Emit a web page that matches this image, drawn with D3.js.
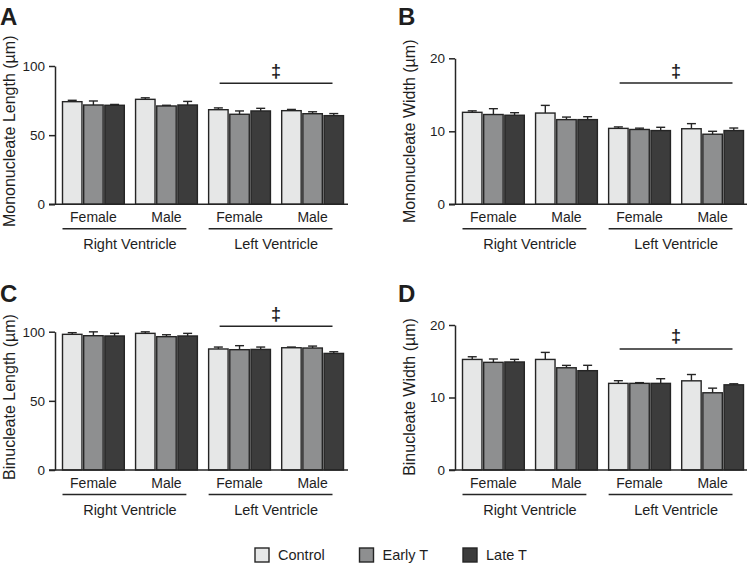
<!DOCTYPE html>
<html>
<head>
<meta charset="utf-8">
<script src="https://cdn.jsdelivr.net/npm/d3@7"></script>
<style>
  body { margin: 0; background: #fff; }
  text { font-family: Arial, "Liberation Sans", sans-serif; fill: #1e1e1e; }
</style>
</head>
<body>
<svg id="vis" width="747" height="566"></svg>
<script>
// series, groups, regions
const seriesNames = ['Control', 'Early T', 'Late T']
const groupLabels = ['Female', 'Male', 'Female', 'Male']
const regionLabels = ['Right Ventricle', 'Left Ventricle']

// values per group (RV female, RV male, LV female, LV male), one per series
const monoLengthMean = [[74.2, 71.8, 71.6], [75.9, 71.1, 71.8], [68.4, 65.1, 67.5], [67.7, 65.5, 64.1]]
const monoLengthErr  = [[1.0, 2.9, 0.6], [1.1, 0.5, 2.6], [1.3, 2.4, 1.9], [0.9, 1.4, 1.5]]
const monoWidthMean  = [[12.6, 12.3, 12.2], [12.5, 11.6, 11.6], [10.4, 10.25, 10.1], [10.35, 9.6, 10.1]]
const monoWidthErr   = [[0.2, 0.8, 0.35], [1.05, 0.35, 0.4], [0.2, 0.18, 0.45], [0.7, 0.4, 0.35]]
const biLengthMean   = [[98.1, 97.1, 96.9], [98.8, 96.4, 96.9], [87.5, 87.0, 87.2], [88.4, 88.2, 84.3]]
const biLengthErr    = [[1.2, 2.8, 1.9], [1.1, 1.4, 1.9], [1.4, 2.9, 1.7], [0.5, 1.4, 1.2]]
const biWidthMean    = [[15.25, 14.85, 14.9], [15.25, 14.1, 13.7], [11.95, 11.95, 11.95], [12.3, 10.65, 11.75]]
const biWidthErr     = [[0.37, 0.46, 0.36], [0.97, 0.33, 0.74], [0.37, 0.1, 0.64], [0.87, 0.64, 0.14]]

// level of the significance bar over the left ventricle groups
const sigLevels = [87.5, 16.6, 104, 16.7]

const colors = ['#e6e7e7', '#8e8f90', '#3c3c3c']
const ink = '#252525'

const panels = [
  {letter: 'A', label: 'Mononucleate Length (\u00b5m)', max: 100, ticks: [0, 50, 100], mean: monoLengthMean, err: monoLengthErr, sig: sigLevels[0],
   ax: 55, top: 66, bottom: 204.3, lx: 0, ly: 25},
  {letter: 'B', label: 'Mononucleate Width (\u00b5m)', max: 20, ticks: [0, 10, 20], mean: monoWidthMean, err: monoWidthErr, sig: sigLevels[1],
   ax: 455, top: 58.3, bottom: 204.3, lx: 398, ly: 25},
  {letter: 'C', label: 'Binucleate Length (\u00b5m)', max: 100, ticks: [0, 50, 100], mean: biLengthMean, err: biLengthErr, sig: sigLevels[2],
   ax: 55, top: 331.7, bottom: 470, lx: 0, ly: 302},
  {letter: 'D', label: 'Binucleate Width (\u00b5m)', max: 20, ticks: [0, 10, 20], mean: biWidthMean, err: biWidthErr, sig: sigLevels[3],
   ax: 455, top: 325, bottom: 470, lx: 398, ly: 302}
]

const svg = d3.select('#vis')

panels.forEach(p => drawPanel(p))

function drawPanel(p){
    let g = svg.append('g').attr('class', 'panel')

    let y = d3.scaleLinear().domain([0, p.max]).range([p.bottom, p.top])

    let x = d3.scaleBand()
        .domain(d3.range(groupLabels.length))
        .range([p.ax + 7.5, p.ax + 288.5])
        .paddingInner(0.154)
        .paddingOuter(0)

    let xs = d3.scaleBand()
        .domain(d3.range(seriesNames.length))
        .range([0, x.bandwidth()])
        .paddingInner(0.08)

    //panel letter
    g.append('text')
        .attr('x', p.lx).attr('y', p.ly)
        .style('font-size', '24px').style('font-weight', 'bold')
        .text(p.letter)

    //y axis
    let yAxis = d3.axisLeft(y).tickValues(p.ticks).tickSize(6).tickSizeOuter(0).tickPadding(4)
    let ya = g.append('g')
        .attr('transform', 'translate(' + p.ax + ',0)')
        .call(yAxis)
    ya.select('.domain').attr('stroke', ink).attr('stroke-width', 1.5)
    ya.selectAll('.tick line').attr('stroke', ink).attr('stroke-width', 1.5)
    ya.selectAll('.tick text').style('font-size', '13.5px').style('font-family', 'Arial, "Liberation Sans", sans-serif').attr('fill', '#1e1e1e')

    //y label
    g.append('text')
        .attr('transform', 'translate(' + (p.ax - 46) + ',' + (p.bottom - 73) + ') rotate(-90)')
        .attr('text-anchor', 'middle')
        .attr('dy', '0.35em')
        .style('font-size', '16px')
        .text(p.label)

    //bars
    let cells = []
    p.mean.forEach((row, gi) => row.forEach((v, si) => cells.push({gi: gi, si: si, v: v, e: p.err[gi][si]})))

    g.selectAll('.bar')
        .data(cells)
        .enter()
        .append('rect')
        .attr('class', 'bar')
        .attr('x', d => x(d.gi) + xs(d.si))
        .attr('y', d => y(d.v))
        .attr('width', xs.bandwidth())
        .attr('height', d => y(0) - y(d.v))
        .attr('fill', d => colors[d.si])
        .attr('stroke', ink)
        .attr('stroke-width', 1.4)

    //error bars (upper only)
    let eb = g.selectAll('.err')
        .data(cells)
        .enter()
        .append('g')
        .attr('class', 'err')
        .attr('stroke', ink)
        .attr('stroke-width', 1.4)
    eb.append('line')
        .attr('x1', d => x(d.gi) + xs(d.si) + xs.bandwidth() / 2)
        .attr('x2', d => x(d.gi) + xs(d.si) + xs.bandwidth() / 2)
        .attr('y1', d => y(d.v))
        .attr('y2', d => y(d.v + d.e))
    eb.append('line')
        .attr('x1', d => x(d.gi) + xs(d.si) + xs.bandwidth() / 2 - 4.5)
        .attr('x2', d => x(d.gi) + xs(d.si) + xs.bandwidth() / 2 + 4.5)
        .attr('y1', d => y(d.v + d.e))
        .attr('y2', d => y(d.v + d.e))

    //x axis line
    g.append('line')
        .attr('x1', p.ax - 6).attr('x2', p.ax + 293)
        .attr('y1', y(0)).attr('y2', y(0))
        .attr('stroke', ink).attr('stroke-width', 1.5)

    //group labels
    g.selectAll('.glabel')
        .data(groupLabels)
        .enter()
        .append('text')
        .attr('class', 'glabel')
        .attr('x', (d, i) => x(i) + x.bandwidth() / 2)
        .attr('y', p.bottom + 17.5)
        .attr('text-anchor', 'middle')
        .style('font-size', '14px')
        .text(d => d)

    //region underline + label
    regionLabels.forEach((r, ri) => {
        let a = x(ri * 2)
        let b = x(ri * 2 + 1) + x.bandwidth() - 11
        g.append('line')
            .attr('x1', a).attr('x2', b)
            .attr('y1', p.bottom + 24.5).attr('y2', p.bottom + 24.5)
            .attr('stroke', ink).attr('stroke-width', 1.5)
        g.append('text')
            .attr('x', (x(ri * 2) + x(ri * 2 + 1) + x.bandwidth()) / 2)
            .attr('y', p.bottom + 45)
            .attr('text-anchor', 'middle')
            .style('font-size', '14.5px')
            .text(r)
    })

    //significance bar over left ventricle
    let s1 = x(2) + 11
    let s2 = x(3) + x.bandwidth() - 11
    g.append('line')
        .attr('x1', s1).attr('x2', s2)
        .attr('y1', y(p.sig)).attr('y2', y(p.sig))
        .attr('stroke', ink).attr('stroke-width', 1.5)
    g.append('text')
        .attr('x', (s1 + s2) / 2)
        .attr('y', y(p.sig) - 6.5)
        .attr('text-anchor', 'middle')
        .style('font-size', '18px')
        .style('font-weight', 'bold')
        .text('\u2021')
}

//legend
const legendX = [255, 359.5, 463]
let legend = svg.append('g').attr('class', 'legend')
seriesNames.forEach((s, i) => {
    legend.append('rect')
        .attr('x', legendX[i]).attr('y', 548)
        .attr('width', 14).attr('height', 14)
        .attr('fill', colors[i])
        .attr('stroke', ink).attr('stroke-width', 1.4)
    legend.append('text')
        .attr('x', legendX[i] + 23).attr('y', 560)
        .style('font-size', '14.5px')
        .text(s)
})
</script>
</body>
</html>
